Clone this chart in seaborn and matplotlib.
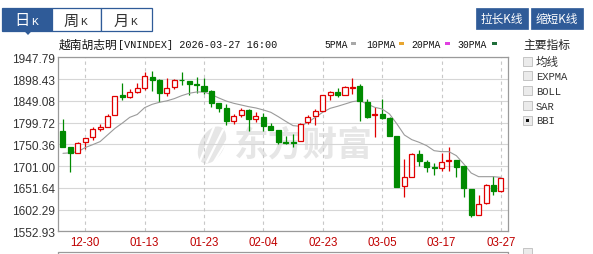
import matplotlib
matplotlib.use("Agg")
import matplotlib.pyplot as plt
from matplotlib.patches import Rectangle, Polygon, Ellipse
from matplotlib.lines import Line2D
import seaborn as sns
import numpy as np
import pandas as pd

# ---------------- data ----------------
dates = ["12-25", "12-26", "12-29", "12-30", "12-31",
         "01-05", "01-06", "01-07", "01-08", "01-09", "01-12", "01-13",
         "01-14", "01-15", "01-16", "01-19", "01-20", "01-21", "01-22", "01-23",
         "01-26", "01-27", "01-28", "01-29", "01-30", "02-02", "02-03", "02-04",
         "02-05", "02-06", "02-09", "02-10", "02-11", "02-12", "02-13", "02-23",
         "02-24", "02-25", "02-26", "02-27", "03-02", "03-03", "03-04", "03-05",
         "03-06", "03-09", "03-10", "03-11", "03-12", "03-13", "03-16", "03-17",
         "03-18", "03-19", "03-20", "03-23", "03-24", "03-25", "03-26", "03-27"]

open_ = [1781.4, 1743.6, 1731.5, 1756.4, 1767.8, 1785.9, 1790.5, 1817.7, 1861.6, 1858.5,
         1869.9, 1878.2, 1903.9, 1896.4, 1866.9, 1879.7, 1897.1, 1894.8, 1887.3, 1883.5,
         1870.6, 1843.4, 1832.1, 1804.1, 1817.7, 1829.0, 1807.9, 1813.2, 1791.2, 1782.9,
         1755.7, 1754.9, 1757.2, 1800.3, 1814.0, 1826.6, 1862.3, 1869.5, 1863.0, 1878.0,
         1883.4, 1845.6, 1816.5, 1819.1, 1809.3, 1768.5, 1654.9, 1676.9, 1728.4, 1709.4,
         1698.8, 1695.8, 1712.4, 1714.7, 1700.4, 1648.9, 1590.7, 1617.2, 1658.0, 1643.6]
high = [1807.1, 1743.6, 1755.0, 1765.5, 1788.9, 1796.5, 1819.2, 1861.0, 1888.8, 1875.9,
        1888.8, 1913.7, 1917.5, 1898.6, 1900.9, 1898.6, 1915.3, 1894.8, 1903.9, 1900.9,
        1873.7, 1843.4, 1841.9, 1819.2, 1832.8, 1830.5, 1824.5, 1822.0, 1798.8, 1782.9,
        1770.0, 1773.8, 1798.0, 1817.7, 1830.5, 1862.3, 1872.0, 1877.0, 1881.9, 1900.0,
        1887.2, 1853.2, 1834.3, 1853.2, 1811.6, 1768.5, 1717.0, 1730.6, 1737.4, 1715.5,
        1707.9, 1730.6, 1743.5, 1714.7, 1701.9, 1648.9, 1635.3, 1660.0, 1679.2, 1674.5]
low = [1744.0, 1688.4, 1731.0, 1739.0, 1760.2, 1779.9, 1790.5, 1817.7, 1851.0, 1855.5,
       1866.1, 1874.4, 1872.2, 1847.2, 1860.8, 1876.7, 1884.2, 1862.3, 1866.9, 1864.6,
       1835.8, 1824.5, 1795.0, 1796.5, 1811.6, 1779.9, 1800.3, 1781.4, 1783.7, 1751.1,
       1751.1, 1743.6, 1757.2, 1797.5, 1794.2, 1826.6, 1851.6, 1858.0, 1863.0, 1864.5,
       1804.0, 1809.3, 1767.7, 1807.8, 1768.5, 1652.7, 1631.5, 1675.4, 1701.9, 1688.3,
       1680.7, 1690.5, 1690.5, 1676.9, 1630.0, 1584.7, 1590.7, 1615.0, 1636.0, 1641.4]
close = [1745.1, 1729.9, 1754.2, 1765.5, 1784.4, 1788.9, 1815.4, 1860.8, 1857.0, 1868.4,
         1877.4, 1904.7, 1896.4, 1866.1, 1878.2, 1897.1, 1895.6, 1887.3, 1885.0, 1870.6,
         1844.2, 1832.1, 1804.1, 1815.4, 1829.0, 1807.9, 1815.4, 1791.2, 1783.7, 1754.9,
         1754.2, 1752.6, 1796.5, 1813.2, 1825.3, 1862.3, 1868.4, 1861.5, 1879.6, 1880.5,
         1847.9, 1813.1, 1818.5, 1810.0, 1770.0, 1654.2, 1675.4, 1728.4, 1711.7, 1698.1,
         1696.6, 1709.4, 1714.7, 1699.6, 1650.4, 1590.7, 1614.9, 1658.0, 1645.2, 1673.9]
bbi = [1729.9, 1731.0, 1733.5, 1743.0, 1749.5, 1756.5, 1771.5, 1786.5, 1798.5, 1811.6,
       1818.0, 1833.5, 1841.0, 1845.7, 1849.0, 1854.0, 1860.8, 1866.1, 1869.1, 1869.1,
       1863.1, 1855.5, 1848.5, 1843.4, 1839.6, 1835.8, 1832.8, 1828.3, 1823.0, 1813.2,
       1802.6, 1792.7, 1791.2, 1800.3, 1811.6, 1823.0, 1832.0, 1836.6, 1841.8, 1847.1,
       1849.4, 1841.8, 1834.3, 1830.5, 1819.1, 1796.4, 1771.5, 1760.9, 1754.8, 1747.3,
       1735.9, 1733.7, 1733.7, 1724.6, 1705.7, 1685.2, 1676.9, 1676.9, 1676.9, 1675.4]

y_ticks = [1552.93, 1602.29, 1651.64, 1701.00, 1750.36, 1799.72, 1849.08, 1898.43, 1947.79]
x_tick_dates = ["12-30", "01-13", "01-23", "02-04", "02-23", "03-05", "03-17", "03-27"]
legend_items = ["5PMA", "10PMA", "20PMA", "30PMA"]
legend_colors = ["#a8a8a8", "#e8a630", "#e040e0", "#1f6e3a"]
tabs = ["日K", "周K", "月K"]
buttons = ["拉长K线", "缩短K线"]
indicators = ["均线", "EXPMA", "BOLL", "SAR", "BBI"]
title_cn = "越南胡志明"
title_code = "[VNINDEX] 2026-03-27 16:00"

df = pd.DataFrame({"date": dates, "open": open_, "high": high, "low": low,
                   "close": close, "bbi": bbi})
df["i"] = np.arange(len(df))

# ---------------- style ----------------
sns.set_style("white")
plt.rcParams["font.family"] = ["Liberation Sans", "Noto Sans CJK SC", "DejaVu Sans"]
MONO = ["Liberation Mono", "Noto Sans CJK SC", "DejaVu Sans"]
CJK = ["Noto Sans CJK SC", "DejaVu Sans"]

W, H = 593, 255
RED = "#e00000"
GREEN = "#008a00"
BLUE = "#2f5b98"
WM = "#e6e6e6"

fig = plt.figure(figsize=(W / 100, H / 100), dpi=100)
fig.patch.set_facecolor("white")

def fx(x):
    return x / W

def fy(y):
    return 1 - y / H

L, R, T, B = 58.3, 508.3, 58.3, 232.3
ax = fig.add_axes([fx(L), fy(B), (R - L) / W, (B - T) / H])
ax.set_facecolor("white")

# grid
for v in y_ticks:
    ax.axhline(v, color="#d6d6d6", lw=0.8, zorder=0.6)
tick_idx = [dates.index(d) for d in x_tick_dates]
for t in tick_idx:
    ax.axvline(t, color="#c8c8c8", lw=0.8, ls=(0, (3, 3)), zorder=0.6)

# watermark
ax.text(fx(303), fy(145), "东方财富", transform=fig.transFigure, fontsize=25,
        fontweight="bold", color=WM, ha="center", va="center",
        family=CJK, zorder=0.3)
logo = Ellipse((212 / 100, (H - 146) / 100), 24 / 100, 40 / 100, angle=-28,
               transform=fig.dpi_scale_trans, facecolor=WM, edgecolor="none", zorder=0.3)
ax.add_artist(logo)
for (x0, y0, x1, y1) in [(200, 162, 214, 128), (207, 163, 223, 131), (214, 163, 229, 138)]:
    ln = Line2D([x0 / 100, x1 / 100], [(H - y0) / 100, (H - y1) / 100],
                transform=fig.dpi_scale_trans, color="white", lw=1.6, zorder=0.35)
    ax.add_artist(ln)

# wicks
up = df["close"] >= df["open"]
ax.vlines(df["i"][up], df["low"][up], df["high"][up], color=RED, lw=0.9, zorder=2)
ax.vlines(df["i"][~up], df["low"][~up], df["high"][~up], color=GREEN, lw=0.9, zorder=2)

# bodies
bw = 0.68
du = df[up]
dd = df[~up]
ax.bar(du["i"], (du["close"] - du["open"]).clip(lower=0.6), bottom=du["open"], width=bw,
       facecolor="white", edgecolor=RED, linewidth=0.9, zorder=3)
ax.bar(dd["i"], (dd["open"] - dd["close"]).clip(lower=0.6), bottom=dd["close"], width=bw,
       facecolor=GREEN, edgecolor=GREEN, linewidth=0.9, zorder=3)

# BBI line
sns.lineplot(data=df, x="i", y="bbi", ax=ax, color="#9a9a9a", linewidth=0.8,
             zorder=2.5, legend=False)

ax.set_xlim(-0.63, 60.0)
ax.set_ylim(y_ticks[0], y_ticks[-1])
ax.set_yticks(y_ticks)
ax.set_yticklabels([f"{v:.2f}" for v in y_ticks])
ax.set_xticks(tick_idx)
ax.set_xticklabels(x_tick_dates)
ax.set_xlabel("")
ax.set_ylabel("")
ax.tick_params(axis="y", length=0, pad=2.4, labelsize=8.6, labelcolor="#333333")
ax.tick_params(axis="x", length=0, pad=3.5, labelsize=8.3, labelcolor="#c00000")
for s in ax.spines.values():
    s.set_color("#9a9a9a")
    s.set_linewidth(0.9)

# lower panel border (partially visible)
fig.add_artist(Line2D([fx(L), fx(R)], [fy(252.5), fy(252.5)], color="#9a9a9a", lw=0.9))
fig.add_artist(Line2D([fx(L), fx(L)], [fy(252.5), fy(256)], color="#9a9a9a", lw=0.9))
fig.add_artist(Line2D([fx(R), fx(R)], [fy(252.5), fy(256)], color="#9a9a9a", lw=0.9))

# ---------------- header ----------------
tab_x = [2.3, 52.3, 100.7, 151.7]
for k, lab in enumerate(tabs):
    sel = k == 0
    fig.add_artist(Rectangle((fx(tab_x[k]), fy(32.3)), (tab_x[k + 1] - tab_x[k]) / W, 23.3 / H,
                             transform=fig.transFigure, facecolor=BLUE if sel else "white",
                             edgecolor=BLUE, lw=0.9))
    xc = (tab_x[k] + tab_x[k + 1]) / 2
    fig.text(fx(xc - 5), fy(21), lab[0], fontsize=11, family=CJK,
             color="white" if sel else "#333333", ha="center", va="center")
    fig.text(fx(xc + 3.5), fy(22), lab[1], fontsize=8.2, family=MONO,
             color="white" if sel else "#333333", ha="left", va="center")
fig.add_artist(Polygon([(fx(24.5), fy(32.3)), (fx(31.5), fy(32.3)), (fx(28), fy(36))],
                       closed=True, transform=fig.transFigure, facecolor=BLUE, edgecolor="none"))

btn_x = [(475.7, 527.7), (530.7, 582.7)]
for (x0, x1), lab in zip(btn_x, buttons):
    fig.add_artist(Rectangle((fx(x0), fy(29.5)), (x1 - x0) / W, 20.5 / H,
                             transform=fig.transFigure, facecolor=BLUE, edgecolor=BLUE, lw=0.5))
    fig.text(fx((x0 + x1) / 2), fy(19.5), lab, fontsize=8.4, family=CJK,
             color="white", ha="center", va="center")

fig.text(fx(58.5), fy(45), title_cn, fontsize=8.5, family=CJK, color="#111111",
         ha="left", va="center")
fig.text(fx(118.5), fy(45), title_code, fontsize=7.3, family=MONO, color="#111111",
         ha="left", va="center")

leg_text_x = [324.3, 366.0, 411.3, 457.7]
leg_sq_x = [351.0, 399.0, 445.0, 491.5]
for lab, c, tx, sx in zip(legend_items, legend_colors, leg_text_x, leg_sq_x):
    fig.text(fx(tx), fy(45), lab, fontsize=7.0, family=MONO, color="#111111",
             ha="left", va="center")
    fig.add_artist(Rectangle((fx(sx), fy(46)), 5.2 / W, 3.2 / H, transform=fig.transFigure,
                             facecolor=c, edgecolor="none"))

# right panel
fig.text(fx(523.3), fy(45), "主要指标", fontsize=8.5, family=CJK, color="#222222",
         ha="left", va="center")
ind_y = [62.3, 77.0, 92.0, 106.7, 121.3]
for lab, yy in zip(indicators, ind_y):
    fig.add_artist(Rectangle((fx(522.7), fy(yy + 4.3)), 9 / W, 9 / H, transform=fig.transFigure,
                             facecolor="#ebebeb", edgecolor="#c4c4c4", lw=0.7))
    if lab == "BBI":
        fig.add_artist(Rectangle((fx(525.6), fy(yy + 1.6)), 3.4 / W, 3.4 / H,
                                 transform=fig.transFigure, facecolor="#111111", edgecolor="none"))
    fig.text(fx(535.7), fy(yy), lab, fontsize=7.6 if lab != "均线" else 8.3,
             family=MONO if lab != "均线" else CJK, color="#333333", ha="left", va="center")
fig.add_artist(Rectangle((fx(522.7), fy(258)), 9 / W, 9 / H, transform=fig.transFigure,
                         facecolor="#ebebeb", edgecolor="#c4c4c4", lw=0.7))

fig.savefig("out.png", dpi=100, facecolor="white")
